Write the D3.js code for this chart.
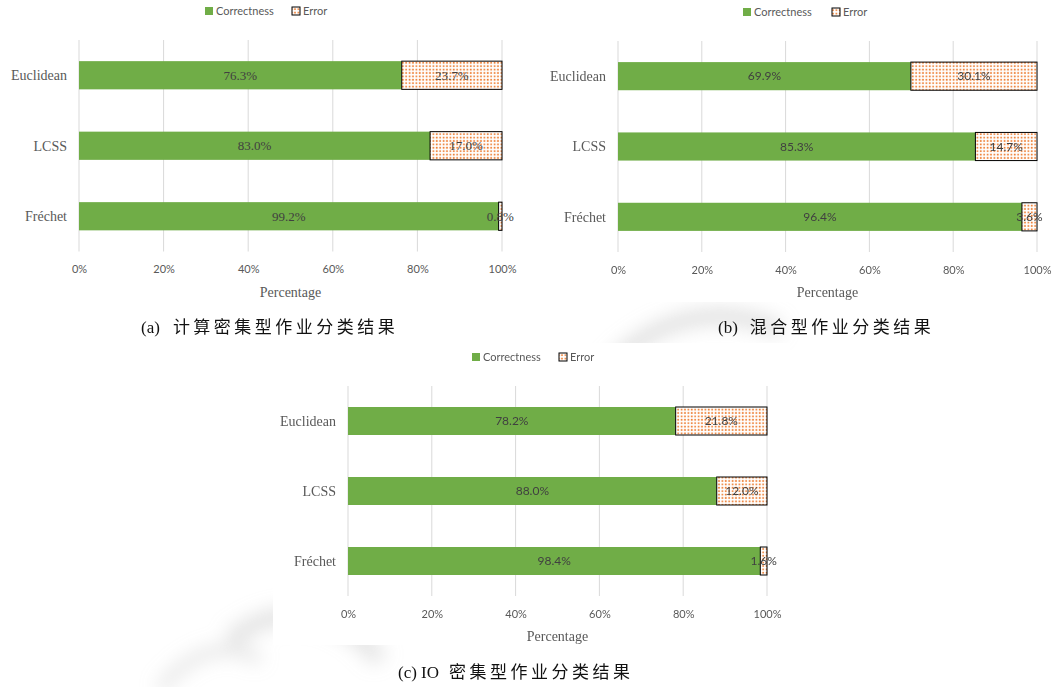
<!DOCTYPE html>
<html>
<head>
<meta charset="utf-8">
<script src="https://cdn.jsdelivr.net/npm/d3@7"></script>
<style>
  body { margin: 0; background: #fff; }
  svg { display: block; }
</style>
</head>
<body>
<div id="chart"></div>
<script>
// categories and values
var categories = ["Euclidean", "LCSS", "Fréchet"];
var correctA = [76.3, 83.0, 99.2];
var errorA   = [23.7, 17.0, 0.8];
var correctB = [69.9, 85.3, 96.4];
var errorB   = [30.1, 14.7, 3.6];
var correctC = [78.2, 88.0, 98.4];
var errorC   = [21.8, 12.0, 1.6];
var tickValues = [0, 20, 40, 60, 80, 100];
var seriesNames = ["Correctness", "Error"];
var captionTags = ["(a)", "(b)", "(c) IO"];
var captionTexts = ["计算密集型作业分类结果", "混合型作业分类结果", "密集型作业分类结果"];

var green = "#70ad47";
var orange = "#ed7d31";
var sans = "Lato, 'Open Sans', sans-serif";
var serif = "'Liberation Serif', 'Times New Roman', 'DejaVu Serif', serif";
var cjk = "'Liberation Serif', 'Noto Sans CJK SC', serif";

var svg = d3.select("#chart").append("svg")
    .attr("width", 1060)
    .attr("height", 687);

var defs = svg.append("defs");

// dotted fill used for the Error bars
var pat = defs.append("pattern")
    .attr("id", "dots")
    .attr("patternUnits", "userSpaceOnUse")
    .attr("width", 3.4)
    .attr("height", 3.4);
pat.append("rect").attr("width", 3.4).attr("height", 3.4).attr("fill", "#fff");
pat.append("rect").attr("x", 0.7).attr("y", 0.7).attr("width", 1.7).attr("height", 1.7).attr("fill", orange);

defs.append("filter").attr("id", "blur")
    .append("feGaussianBlur").attr("stdDeviation", 9);

// faint watermark behind the figure
var wm = svg.append("g").attr("filter", "url(#blur)").attr("fill", "none").attr("stroke", "#c4c4c4");
wm.append("path").attr("d", "M600,380 C640,320 720,300 780,330").attr("stroke-width", 16).attr("opacity", 0.5);
wm.append("path").attr("d", "M230,640 C280,600 340,610 380,660").attr("stroke-width", 18).attr("opacity", 0.45);
wm.append("path").attr("d", "M160,690 C190,650 230,640 260,660").attr("stroke-width", 12).attr("opacity", 0.4);

// white chart areas sit on top of the watermark
svg.append("rect").attr("x", 0).attr("y", 0).attr("width", 1060).attr("height", 302).attr("fill", "#fff");
svg.append("rect").attr("x", 273).attr("y", 343).attr("width", 517).attr("height", 302).attr("fill", "#fff");

function drawPanel(cfg) {
    var x = d3.scaleLinear().domain([0, 100]).range([cfg.x0, cfg.x1]);
    var y = d3.scaleBand().domain(categories)
        .range([cfg.y0, cfg.y1])
        .paddingInner(0.6).paddingOuter(0.3);

    var g = svg.append("g");

    // vertical gridlines
    g.selectAll("line.grid")
        .data(tickValues)
        .enter().append("line")
        .attr("x1", function(d) { return x(d); })
        .attr("x2", function(d) { return x(d); })
        .attr("y1", cfg.y0)
        .attr("y2", cfg.y1)
        .attr("stroke", "#d9d9d9")
        .attr("stroke-width", 1);

    // x tick labels via d3 axis
    var axis = g.append("g")
        .attr("transform", "translate(0," + (cfg.y1 + 11) + ")")
        .call(d3.axisBottom(x).tickValues(tickValues).tickSize(0).tickFormat(function(d) { return d + "%"; }));
    axis.select(".domain").remove();
    axis.selectAll("text")
        .attr("font-family", sans)
        .attr("font-size", 11)
        .attr("fill", "#595959");

    // category labels
    g.selectAll("text.cat")
        .data(categories)
        .enter().append("text")
        .attr("x", cfg.x0 - 12)
        .attr("y", function(d) { return y(d) + y.bandwidth() / 2; })
        .attr("dy", "0.35em")
        .attr("text-anchor", "end")
        .attr("font-family", serif)
        .attr("font-size", 14)
        .attr("fill", "#595959")
        .text(function(d) { return d; });

    // Correctness bars
    g.selectAll("rect.ok")
        .data(categories)
        .enter().append("rect")
        .attr("x", x(0))
        .attr("y", function(d) { return y(d); })
        .attr("width", function(d, i) { return x(cfg.correct[i]) - x(0); })
        .attr("height", y.bandwidth())
        .attr("fill", green);

    // Error bars
    g.selectAll("rect.err")
        .data(categories)
        .enter().append("rect")
        .attr("x", function(d, i) { return x(cfg.correct[i]); })
        .attr("y", function(d) { return y(d); })
        .attr("width", function(d, i) { return x(cfg.correct[i] + cfg.error[i]) - x(cfg.correct[i]); })
        .attr("height", y.bandwidth())
        .attr("fill", "url(#dots)")
        .attr("stroke", "#000")
        .attr("stroke-width", 1);

    // data labels
    g.selectAll("text.okl")
        .data(categories)
        .enter().append("text")
        .attr("x", function(d, i) { return x(cfg.correct[i] / 2); })
        .attr("y", function(d) { return y(d) + y.bandwidth() / 2; })
        .attr("dy", "0.35em")
        .attr("text-anchor", "middle")
        .attr("font-family", cfg.labelFont)
        .attr("font-size", cfg.labelSize)
        .attr("fill", "#404040")
        .text(function(d, i) { return cfg.correct[i].toFixed(1) + "%"; });

    g.selectAll("text.errl")
        .data(categories)
        .enter().append("text")
        .attr("x", function(d, i) { return x(cfg.correct[i] + cfg.error[i] / 2); })
        .attr("y", function(d) { return y(d) + y.bandwidth() / 2; })
        .attr("dy", "0.35em")
        .attr("text-anchor", "middle")
        .attr("font-family", cfg.labelFont)
        .attr("font-size", cfg.labelSize)
        .attr("fill", "#404040")
        .text(function(d, i) { return cfg.error[i].toFixed(1) + "%"; });

    // axis title
    g.append("text")
        .attr("x", (cfg.x0 + cfg.x1) / 2)
        .attr("y", cfg.y1 + 45)
        .attr("text-anchor", "middle")
        .attr("font-family", serif)
        .attr("font-size", 14)
        .attr("fill", "#595959")
        .text("Percentage");

    // legend
    var lg = g.append("g").attr("transform", "translate(" + cfg.legendX + "," + cfg.legendY + ")");
    lg.append("rect").attr("x", 0).attr("y", -4).attr("width", 8).attr("height", 8).attr("fill", green);
    lg.append("text").attr("x", 11).attr("y", 0).attr("dy", "0.35em")
        .attr("font-family", sans).attr("font-size", 11).attr("fill", "#595959")
        .text(seriesNames[0]);
    lg.append("rect").attr("x", cfg.legendGap).attr("y", -4).attr("width", 8).attr("height", 8)
        .attr("fill", "url(#dots)").attr("stroke", "#000").attr("stroke-width", 1);
    lg.append("text").attr("x", cfg.legendGap + 11).attr("y", 0).attr("dy", "0.35em")
        .attr("font-family", sans).attr("font-size", 11).attr("fill", "#595959")
        .text(seriesNames[1]);

    // caption: latin tag in normal spacing, CJK part spaced out
    var cap = svg.append("text")
        .attr("x", cfg.capX)
        .attr("y", cfg.capY)
        .attr("font-family", cjk)
        .attr("font-size", 17)
        .attr("fill", "#111");
    cap.append("tspan").text(cfg.tag);
    cap.append("tspan").attr("dx", cfg.tagGap).attr("letter-spacing", 3.5).text(cfg.caption);
}

drawPanel({
    x0: 79, x1: 502, y0: 40, y1: 251.5,
    correct: correctA, error: errorA,
    labelFont: serif, labelSize: 13,
    legendX: 205, legendY: 11, legendGap: 87,
    tag: captionTags[0], caption: captionTexts[0], tagGap: 13, capX: 141, capY: 333
});

drawPanel({
    x0: 618, x1: 1037, y0: 41, y1: 252,
    correct: correctB, error: errorB,
    labelFont: sans, labelSize: 12,
    legendX: 743, legendY: 12, legendGap: 89,
    tag: captionTags[1], caption: captionTexts[1], tagGap: 12, capX: 718, capY: 333
});

drawPanel({
    x0: 348, x1: 767, y0: 386, y1: 596,
    correct: correctC, error: errorC,
    labelFont: sans, labelSize: 12,
    legendX: 472, legendY: 357, legendGap: 87,
    tag: captionTags[2], caption: captionTexts[2], tagGap: 10, capX: 398, capY: 678
});
</script>
</body>
</html>
